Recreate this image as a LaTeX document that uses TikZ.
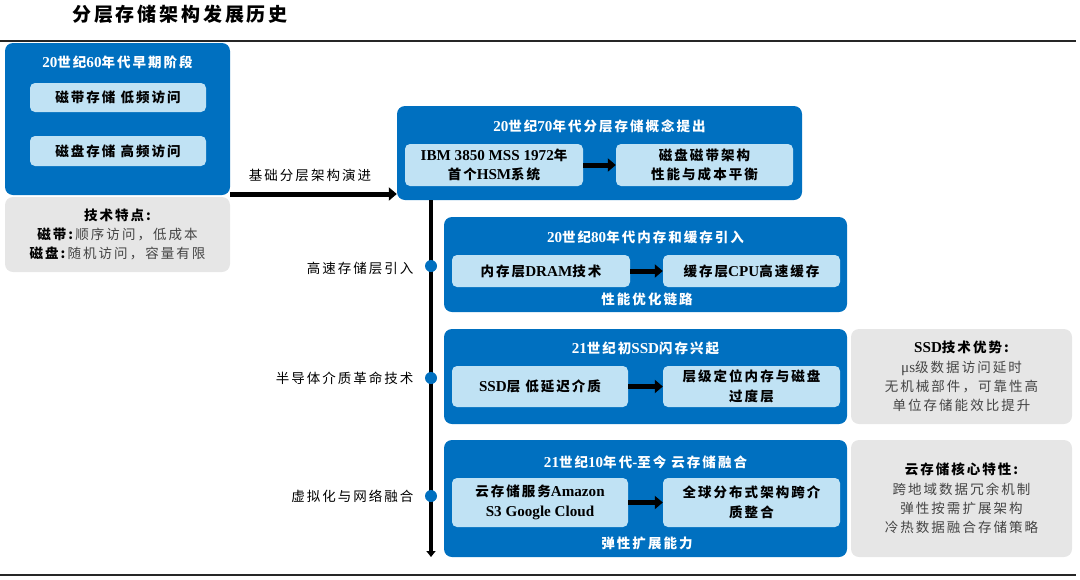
\documentclass[tikz,border=0pt]{standalone}
\usepackage{fontspec}
\setmainfont[LetterSpace=15]{Noto Sans CJK SC}
\newfontfamily\lt[Scale=1.12]{Liberation Serif}
\usetikzlibrary{arrows.meta}
\definecolor{mainblue}{HTML}{0070C0}
\definecolor{lightblue}{HTML}{C0E2F4}
\definecolor{panelgray}{HTML}{E6E6E6}
\definecolor{graytext}{HTML}{444444}
\tikzset{
  bluebox/.style={fill=mainblue, rounded corners=8pt, inner sep=0pt},
  innerbox/.style={fill=lightblue, rounded corners=5pt, inner sep=0pt, align=center, font=\fontsize{13.5}{19.5}\selectfont\bfseries, text=black},
  graybox/.style={fill=panelgray, rounded corners=8pt, inner sep=0pt},
  boxtitle/.style={text=white, font=\fontsize{13.5}{16}\selectfont\bfseries},
  grayhead/.style={text=black, font=\fontsize{13.5}{16}\selectfont\bfseries},
  grayline/.style={text=graytext, font=\fontsize{13.5}{16}\selectfont},
  sidelabel/.style={text=black, anchor=east, font=\fontsize{13.5}{16}\selectfont},
  thickarrow/.style={line width=5pt, -{Triangle[length=8pt,width=13pt]}},
  tline/.style={line width=3.5pt, -{Triangle[length=6pt,width=9pt]}},
  dot/.style={circle, fill=mainblue, minimum size=12pt, inner sep=0pt},
  rule/.style={line width=1.5pt, black!85}
}
\begin{document}
\begin{tikzpicture}[x=1pt,y=-1pt]
\useasboundingbox (0,0) rectangle (1080,579);
% title and rules
\node[font=\fontsize{19}{22}\selectfont\bfseries] (title) at (180,14) {分层存储架构发展历史};
\coordinate (tl) at (0,41); \coordinate (tr) at (1076,41);
\draw[rule] (tl) -- (tr);
\coordinate (bl) at (0,575); \coordinate (br) at (1076,575);
\draw[rule] (bl) -- (br);

% 60s
\node[bluebox, minimum width=225pt, minimum height=152pt] (b60) at (117.5,119) {};
\node[boxtitle] (t60) at (117.5,62) {{\lt 20}世纪{\lt 60}年代早期阶段};
\node[innerbox, minimum width=176pt, minimum height=29pt] (i60a) at (118,97.5) {磁带存储\ 低频访问};
\node[innerbox, minimum width=176pt, minimum height=30pt] (i60b) at (118,151) {磁盘存储\ 高频访问};
\node[graybox, minimum width=225pt, minimum height=75pt] (g60) at (117.5,234.5) {};
\node[grayhead] (g60h) at (117.5,215) {技术特点:};
\node[grayline] (g60a) at (117.5,234) {{\bfseries\color{black}磁带:}\,顺序访问，低成本};
\node[grayline] (g60b) at (117.5,253) {{\bfseries\color{black}磁盘:}\,随机访问，容量有限};

% 70s
\node[bluebox, minimum width=405pt, minimum height=94pt] (b70) at (599.5,153) {};
\node[boxtitle] (t70) at (599.5,126) {{\lt 20}世纪{\lt 70}年代分层存储概念提出};
\node[innerbox, minimum width=178pt, minimum height=42pt] (i70a) at (494,165) {{\lt IBM 3850 MSS 1972}年\\首个{\lt HSM}系统};
\node[innerbox, minimum width=177pt, minimum height=42pt] (i70b) at (704.5,165) {磁盘磁带架构\\性能与成本平衡};
\draw[thickarrow] (i70a) -- (i70b);

% horizontal evolution arrow
\coordinate (hs) at (230,194);
\draw[thickarrow] (hs) -- (b70.west |- hs);
\node[font=\fontsize{13.5}{16}\selectfont] (hlab) at (310,175) {基础分层架构演进};

% vertical timeline
\coordinate (ve) at (431,557);
\draw[tline] (b70.south -| ve) -- (ve);

% 80s
\node[bluebox, minimum width=403pt, minimum height=95pt] (b80) at (645.5,264.5) {};
\node[boxtitle] (t80) at (645.5,237) {{\lt 20}世纪{\lt 80}年代内存和缓存引入};
\node[innerbox, minimum width=178pt, minimum height=32pt] (i80a) at (541,271) {内存层{\lt DRAM}技术};
\node[innerbox, minimum width=177pt, minimum height=32pt] (i80b) at (751.5,271) {缓存层{\lt CPU}高速缓存};
\draw[thickarrow] (i80a) -- (i80b);
\node[boxtitle] (c80) at (647,299) {性能优化链路};
\node[dot] (d1) at (431,266) {};
\node[sidelabel] (l1) at (417,268) {高速存储层引入};

% SSD
\node[bluebox, minimum width=403pt, minimum height=95pt] (bssd) at (645.5,376.5) {};
\node[boxtitle] (tssd) at (645.5,348) {{\lt 21}世纪初{\lt SSD}闪存兴起};
\node[innerbox, minimum width=176pt, minimum height=41pt] (issa) at (540,386.5) {{\lt SSD}层\ 低延迟介质};
\node[innerbox, minimum width=177pt, minimum height=41pt] (issb) at (751.5,386.5) {层级定位内存与磁盘\\过度层};
\draw[thickarrow] (issa) -- (issb);
\node[graybox, minimum width=221pt, minimum height=95pt] (gssd) at (961.5,376.5) {};
\node[grayhead] (gsh) at (961.5,347) {{\lt SSD}技术优势:};
\node[grayline] (gs1) at (961.5,368) {{\lt μs}级数据访问延时};
\node[grayline] (gs2) at (961.5,386.5) {无机械部件，可靠性高};
\node[grayline] (gs3) at (961.5,405) {单位存储能效比提升};
\node[dot] (d2) at (431,378) {};
\node[sidelabel] (l2) at (417,378) {半导体介质革命技术};

% Cloud
\node[bluebox, minimum width=403pt, minimum height=117pt] (bcl) at (645.5,498.5) {};
\node[boxtitle] (tcl) at (645.5,462) {{\lt 21}世纪{\lt 10}年代{\lt -}至今\ 云存储融合};
\node[innerbox, minimum width=176pt, minimum height=49pt] (icla) at (540,502.5) {云存储服务{\lt Amazon}\\{\lt S3 Google Cloud}};
\node[innerbox, minimum width=177pt, minimum height=49pt] (iclb) at (751.5,502.5) {全球分布式架构跨介\\质整合};
\draw[thickarrow] (icla) -- (iclb);
\node[boxtitle] (ccl) at (647,543) {弹性扩展能力};
\node[graybox, minimum width=221pt, minimum height=117pt] (gcl) at (961.5,498.5) {};
\node[grayhead] (gch) at (961.5,469) {云存储核心特性:};
\node[grayline] (gc1) at (961.5,489) {跨地域数据冗余机制};
\node[grayline] (gc2) at (961.5,508) {弹性按需扩展架构};
\node[grayline] (gc3) at (961.5,527) {冷热数据融合存储策略};
\node[dot] (d3) at (431,496) {};
\node[sidelabel] (l3) at (417,496) {虚拟化与网络融合};
\end{tikzpicture}
\end{document}
